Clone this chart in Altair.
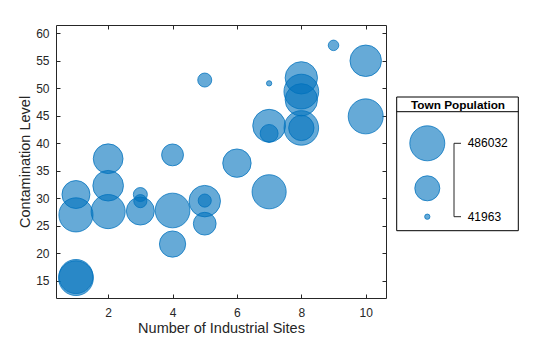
import altair as alt
import pandas as pd

# ---- data ----
sites = [1, 1, 1, 1, 2, 2, 2, 3, 3, 3, 4, 4, 4, 5, 5, 5, 5, 6, 7, 7, 7, 7, 8, 8, 8, 8, 8, 9, 10, 10]
contamination = [15.5, 15.8, 30.7, 27.0, 37.2, 32.3, 27.6, 30.7, 29.5, 27.7, 37.9, 27.8, 21.7,
                 29.5, 29.6, 25.4, 51.5, 36.4, 31.2, 43.2, 41.8, 50.9, 51.9, 49.4, 47.9, 42.8,
                 42.8, 57.8, 55.0, 44.9]
population = [480000, 463600, 322500, 463600, 360000, 379600, 463600, 104400, 95600, 322500,
              209200, 478000, 287300, 399700, 95600, 223700, 104400, 331000, 463600, 431000,
              151000, 41963, 420400, 480000, 420400, 475000, 270000, 72600, 399700, 486032]

legend_values = [486032, 264000, 41963]
legend_labels = ["486032", "", "41963"]
legend_title = "Town Population"
x_ticks = [2, 4, 6, 8, 10]
y_ticks = [15, 20, 25, 30, 35, 40, 45, 50, 55, 60]

df = pd.DataFrame({"sites": sites, "level": contamination, "pop": population})
leg = pd.DataFrame({"pop": legend_values, "label": legend_labels})

FONT = "Liberation Sans"
TXT = "#262626"
BLUE = "#0072BD"
W, H = 330, 273
PL, PT = 56, 25

xscale = alt.Scale(domain=[0.38, 10.63], nice=False, zero=False)
yscale = alt.Scale(domain=[11.9, 61.5], nice=False, zero=False)
sscale = alt.Scale(domain=[41963, 486032], range=[28, 1225], zero=False)

common = dict(domain=False, grid=False, tickSize=4, offset=-4, tickColor=TXT,
              tickWidth=1, labelFont=FONT, labelFontSize=12, labelColor=TXT,
              titleFont=FONT, titleFontSize=14.5, titleColor=TXT, titleFontWeight="normal")

bubbles = alt.Chart(df).mark_circle(
    fill=BLUE, fillOpacity=0.6, stroke=BLUE, strokeOpacity=0.75, strokeWidth=1, opacity=1
).encode(
    x=alt.X("sites:Q", scale=xscale,
            axis=alt.Axis(values=x_ticks, title="Number of Industrial Sites", orient="bottom",
                          labelPadding=9, titlePadding=3.5, **common)),
    y=alt.Y("level:Q", scale=yscale,
            axis=alt.Axis(values=y_ticks, title="Contamination Level", orient="left",
                          labelPadding=7, titlePadding=3, **common)),
    size=alt.Size("pop:Q", scale=sscale, legend=None),
)

frame = alt.Chart(df).mark_circle(opacity=0).encode(
    x=alt.X("sites:Q", scale=xscale,
            axis=alt.Axis(values=x_ticks, title=None, orient="top", labels=False, **common)),
    y=alt.Y("level:Q", scale=yscale,
            axis=alt.Axis(values=y_ticks, title=None, orient="right", labels=False, **common)),
)

# ---- custom legend (outside the plot area) ----
bx0, bx1 = 396.7 - PL, 518.3 - PL
by0, by1 = 97.0 - PT, 230.7 - PT
sep = 111.7 - PT
cx = 427.3 - PL
cys = [143.3 - PT, 188.3 - PT, 216.7 - PT]
brx = 454.0 - PL

top_row = leg.iloc[[0]]
box = alt.Chart(top_row).mark_rect(fill="white", stroke="black", strokeWidth=1).encode(
    x=alt.value(bx0), x2=alt.value(bx1), y=alt.value(by0), y2=alt.value(by1))
sep_line = alt.Chart(top_row).mark_rule(color="black", strokeWidth=1).encode(
    x=alt.value(bx0), x2=alt.value(bx1), y=alt.value(sep))
title = alt.Chart(top_row).mark_text(
    text=legend_title, font=FONT, fontSize=11.8, fontWeight="bold", color="black",
    align="center", baseline="middle").encode(
    x=alt.value((bx0 + bx1) / 2 + 0.5), y=alt.value((by0 + sep) / 2 + 0.5))

layers = [bubbles, frame, box, sep_line, title]
for v, cy in zip(legend_values, cys):
    layers.append(
        alt.Chart(leg).transform_filter(alt.datum.pop == v).mark_circle(
            fill=BLUE, fillOpacity=0.6, stroke=BLUE, strokeOpacity=0.75, strokeWidth=1, opacity=1
        ).encode(x=alt.value(cx), y=alt.value(cy),
                 size=alt.Size("pop:Q", scale=sscale, legend=None))
    )

layers.append(alt.Chart(top_row).mark_rule(color=TXT, strokeWidth=1).encode(
    x=alt.value(brx), y=alt.value(cys[0]), y2=alt.value(cys[2])))
for i, cy in enumerate([cys[0], cys[2]]):
    layers.append(alt.Chart(top_row).mark_rule(color=TXT, strokeWidth=1).encode(
        x=alt.value(brx), x2=alt.value(brx + 7), y=alt.value(cy)))
    row = leg.iloc[[0 if i == 0 else 2]]
    layers.append(alt.Chart(row).mark_text(
        font=FONT, fontSize=12, color="black", align="left", baseline="middle").encode(
        x=alt.value(brx + 13.7), y=alt.value(cy), text="label:N"))

chart = alt.layer(*layers).resolve_axis(x="independent", y="independent").properties(
    width=W, height=H,
    autosize=alt.AutoSizeParams(type="none"),
    padding={"left": PL, "top": PT, "right": 560 - PL - W, "bottom": 337 - PT - H},
).configure_view(stroke=TXT, strokeWidth=1)

chart.save("out.html", embed_options={"renderer": "svg", "actions": False})
